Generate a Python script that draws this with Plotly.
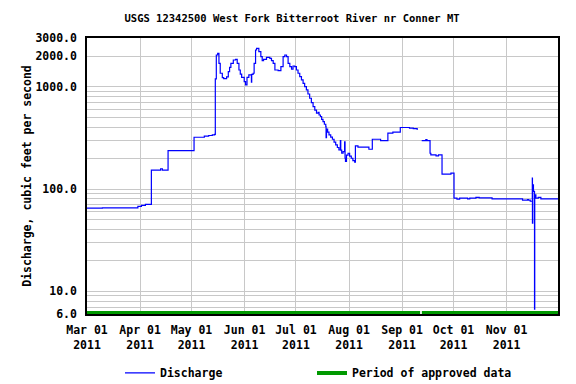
import math
import plotly.graph_objects as go

# ---- data ----
times = [
    "2011-03-01 00:00", "2011-03-10 00:00", "2011-03-30 17:00", "2011-04-01 19:00",
    "2011-04-04 02:00", "2011-04-07 14:00", "2011-04-13 00:00", "2011-04-14 00:00",
    "2011-04-17 08:00", "2011-05-02 12:00", "2011-05-08 12:00", "2011-05-11 01:00",
    "2011-05-13 04:00", "2011-05-14 13:00", "2011-05-14 22:00", "2011-05-15 12:00",
    "2011-05-16 07:00", "2011-05-17 01:00", "2011-05-17 19:00", "2011-05-19 00:00",
    "2011-05-19 19:00", "2011-05-21 12:00", "2011-05-22 12:00", "2011-05-23 06:00",
    "2011-05-24 00:00", "2011-05-25 10:00", "2011-05-26 19:00", "2011-05-27 17:00",
    "2011-05-28 17:00", "2011-05-29 12:00", "2011-05-30 07:00", "2011-05-31 19:00",
    "2011-06-01 14:00", "2011-06-02 10:00", "2011-06-03 12:00", "2011-06-05 00:00",
    "2011-06-05 04:00", "2011-06-06 00:00", "2011-06-06 14:00", "2011-06-07 10:00",
    "2011-06-08 00:00", "2011-06-09 08:00", "2011-06-10 12:00", "2011-06-11 07:00",
    "2011-06-12 02:00", "2011-06-13 19:00", "2011-06-15 18:00", "2011-06-16 17:00",
    "2011-06-17 17:00", "2011-06-18 17:00", "2011-06-20 14:00", "2011-06-22 05:00",
    "2011-06-23 12:00", "2011-06-24 12:00", "2011-06-25 12:00", "2011-06-26 10:00",
    "2011-06-27 10:00", "2011-06-28 10:00", "2011-06-29 07:00", "2011-06-30 07:00",
    "2011-07-01 06:00", "2011-07-02 05:00", "2011-07-03 05:00", "2011-07-04 05:00",
    "2011-07-05 04:00", "2011-07-06 02:00", "2011-07-07 02:00", "2011-07-08 00:00",
    "2011-07-09 00:00", "2011-07-10 00:00", "2011-07-11 00:00", "2011-07-12 00:00",
    "2011-07-13 00:00", "2011-07-13 22:00", "2011-07-14 12:00", "2011-07-15 07:00",
    "2011-07-16 00:00", "2011-07-16 19:00", "2011-07-17 14:00", "2011-07-18 10:00",
    "2011-07-18 14:00", "2011-07-18 20:00", "2011-07-19 12:00", "2011-07-20 07:00",
    "2011-07-21 07:00", "2011-07-22 07:00", "2011-07-23 06:00", "2011-07-24 05:00",
    "2011-07-25 04:00", "2011-07-26 02:00", "2011-07-26 22:00", "2011-07-27 04:00",
    "2011-07-27 17:00", "2011-07-28 12:00", "2011-07-29 10:00", "2011-07-29 16:00",
    "2011-07-29 22:00", "2011-07-30 12:00", "2011-07-31 10:00", "2011-08-01 08:00",
    "2011-08-02 07:00", "2011-08-03 06:00", "2011-08-04 07:00", "2011-08-04 17:00",
    "2011-08-06 05:00", "2011-08-12 14:00", "2011-08-14 14:00", "2011-08-19 10:00",
    "2011-08-23 16:00", "2011-08-26 14:00", "2011-08-30 22:00", "2011-09-05 07:00",
    "2011-09-07 12:00", "2011-09-09 17:00", "2011-09-10 06:00", "2011-09-11 00:00",
    "2011-09-12 10:00", "2011-09-14 20:00", "2011-09-15 12:00", "2011-09-17 07:00",
    "2011-09-17 18:00", "2011-09-20 19:00", "2011-09-22 05:00", "2011-09-24 07:00",
    "2011-09-29 12:00", "2011-10-01 07:00", "2011-10-03 00:00", "2011-10-04 14:00",
    "2011-10-09 05:00", "2011-10-10 12:00", "2011-10-14 02:00", "2011-10-16 00:00",
    "2011-10-23 12:00", "2011-11-10 07:00", "2011-11-13 05:00", "2011-11-13 18:00",
    "2011-11-14 19:00", "2011-11-16 00:00", "2011-11-16 02:00", "2011-11-16 06:00",
    "2011-11-16 16:00", "2011-11-17 07:00", "2011-11-17 10:00", "2011-11-18 02:00",
    "2011-11-19 12:00", "2011-11-21 00:00", "2011-12-01 00:00",
]
discharge = [
    65, 65.5, 67.7, 69.2,
    70.7, 153, 158, 153,
    238, 321, 330, 334,
    338, 343, 1194, 2046,
    2128, 1698, 1356, 1227,
    1200, 1250, 1406, 1550,
    1698, 1829, 1855, 1698,
    1460, 1330, 1236, 1123,
    1042, 1236, 1306, 1110,
    1320, 1356, 1698, 2290,
    2377, 2208, 1972, 1806,
    1855, 1940, 1900, 1806,
    1698, 1460, 1440, 1573,
    1972, 2046, 1972, 1698,
    1573, 1484, 1597, 1573,
    1460, 1356, 1260, 1166,
    1080, 1004, 932, 850,
    773, 700, 640, 590,
    551, 564, 530, 512,
    480, 457, 430, 408,
    318, 385, 360, 339,
    322, 307, 288, 270,
    255, 241, 297, 240,
    224, 232, 290, 200,
    186, 215, 224, 210,
    200, 190, 183, 264,
    257, 245, 307, 297,
    352, 360, 400, 395,
    390, 385, 385, None,
    297, 304, 297, 224,
    216, 211, 216, 140,
    143, 81.6, 79.8, 81.6,
    80, 81.6, 83, 82,
    80, 78, 79, 78,
    76, 128, 46.5, 110,
    95, 6.7, 88, 81.6,
    83, 80, 80,
]

approved_times = ["2011-03-01 00:00", "2011-09-11 12:00", "2011-09-12 12:00", "2011-12-01 00:00"]
approved_level = [6.15, 6.15, 6.15, 6.15]

month_ticks = ["2011-03-01", "2011-04-01", "2011-05-01", "2011-06-01", "2011-07-01",
               "2011-08-01", "2011-09-01", "2011-10-01", "2011-11-01"]
month_labels = ["Mar 01<br>2011", "Apr 01<br>2011", "May 01<br>2011", "Jun 01<br>2011",
                "Jul 01<br>2011", "Aug 01<br>2011", "Sep 01<br>2011", "Oct 01<br>2011",
                "Nov 01<br>2011"]

y_ticks = [6, 10, 100, 1000, 2000, 3000]
y_labels = ["6.0", "10.0", "100.0", "1000.0", "2000.0", "3000.0"]
y_minor = [7, 8, 9, 20, 30, 40, 50, 60, 70, 80, 90,
           200, 300, 400, 500, 600, 700, 800, 900]

FONT = "DejaVu Sans Mono"
GRID = "#c8c8c8"

fig = go.Figure()
fig.add_trace(go.Scatter(
    x=times, y=discharge, mode="lines", name="Discharge",
    line=dict(color="#0000ff", width=1.2, shape="hv"),
    legend="legend",
))
fig.add_trace(go.Scatter(
    x=[approved_times[0], approved_times[1], None, approved_times[2], approved_times[3]],
    y=[approved_level[0], approved_level[1], None, approved_level[2], approved_level[3]],
    mode="lines", name="Period of approved data",
    line=dict(color="#009900", width=4),
    legend="legend2",
))

fig.update_layout(
    width=576, height=384,
    margin=dict(l=87, r=18, t=38, b=70, autoexpand=False),
    paper_bgcolor="white", plot_bgcolor="white",
    font=dict(family=FONT, size=11.5, color="black", weight="bold"),
    title=dict(
        text="USGS 12342500 West Fork Bitterroot River nr Conner MT",
        x=0.507, xref="container", xanchor="center",
        y=1 - 18 / 384, yref="container", yanchor="middle",
        font=dict(family=FONT, size=10.5, color="black", weight="bold"),
    ),
    showlegend=True,
    legend=dict(orientation="h", x=(120 - 87) / 471, xanchor="left",
                y=-0.161, yanchor="top", bgcolor="rgba(0,0,0,0)",
                font=dict(family=FONT, size=11.5, weight="bold")),
    legend2=dict(orientation="h", x=(312 - 87) / 471, xanchor="left",
                 y=-0.161, yanchor="top", bgcolor="rgba(0,0,0,0)",
                 font=dict(family=FONT, size=11.5, weight="bold")),
)

fig.update_xaxes(
    type="date", range=["2011-03-01", "2011-12-01"], automargin=False,
    tickmode="array", tickvals=month_ticks, ticktext=month_labels,
    showgrid=True, gridcolor=GRID, gridwidth=1,
    showline=True, linecolor="black", linewidth=1.5, mirror=True,
    ticks="", zeroline=False, ticklabelstandoff=4,
)
fig.update_yaxes(
    type="log", range=[math.log10(6), math.log10(3000)], automargin=False,
    tickmode="array", tickvals=y_ticks, ticktext=y_labels,
    showgrid=True, gridcolor=GRID, gridwidth=1,
    minor=dict(tickmode="array", tickvals=y_minor, showgrid=True,
               gridcolor=GRID, gridwidth=1, ticks=""),
    showline=True, linecolor="black", linewidth=1.5, mirror=True,
    ticks="", zeroline=False, ticklabelstandoff=6,
    title=dict(text="Discharge, cubic feet per second", standoff=1,
               font=dict(family=FONT, size=11.5, weight="bold")),
)

fig.write_html(
    "out.html",
    config={"displayModeBar": False},
    post_script="document.body.style.margin='0';document.body.style.overflow='hidden';",
)
